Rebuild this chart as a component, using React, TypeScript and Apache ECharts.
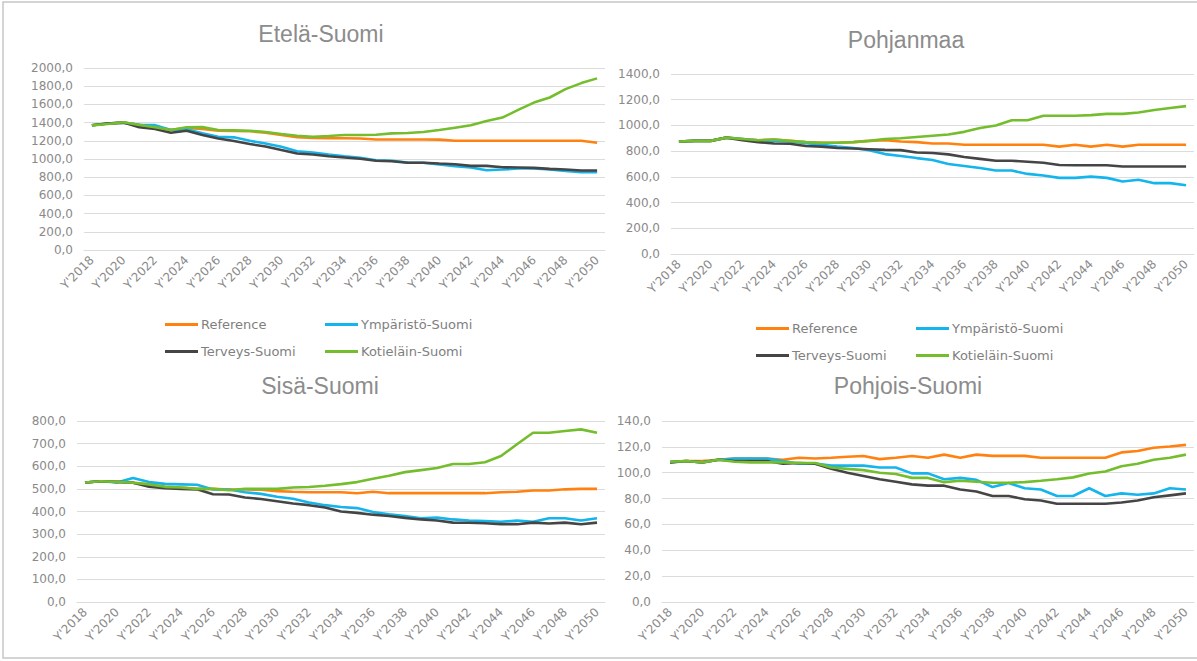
import React, { useEffect, useRef } from "react";
import * as echarts from "echarts";

const years = [
  "Y'2018", "Y'2019", "Y'2020", "Y'2021", "Y'2022", "Y'2023", "Y'2024", "Y'2025", "Y'2026", "Y'2027", "Y'2028",
  "Y'2029", "Y'2030", "Y'2031", "Y'2032", "Y'2033", "Y'2034", "Y'2035", "Y'2036", "Y'2037", "Y'2038", "Y'2039",
  "Y'2040", "Y'2041", "Y'2042", "Y'2043", "Y'2044", "Y'2045", "Y'2046", "Y'2047", "Y'2048", "Y'2049", "Y'2050",
];

const seriesNames = ["Reference", "Ympäristö-Suomi", "Terveys-Suomi", "Kotieläin-Suomi"];
const seriesColors = ["#FF8210", "#14B4EC", "#454545", "#74BE2E"];

const panelTitles = ["Etelä-Suomi", "Pohjanmaa", "Sisä-Suomi", "Pohjois-Suomi"];

// Etelä-Suomi
const eteläReference = [1370, 1390, 1400, 1375, 1350, 1320, 1340, 1330, 1310, 1308, 1305, 1290, 1265, 1240, 1230, 1228, 1228, 1226, 1215, 1215, 1215, 1215, 1213, 1200, 1200, 1200, 1200, 1200, 1200, 1200, 1200, 1200, 1178];
const eteläYmparisto = [1370, 1390, 1400, 1375, 1372, 1318, 1326, 1282, 1245, 1238, 1200, 1171, 1134, 1086, 1072, 1050, 1031, 1013, 987, 980, 961, 958, 940, 921, 906, 877, 884, 895, 895, 884, 869, 854, 854];
const eteläTerveys = [1370, 1390, 1400, 1350, 1330, 1289, 1311, 1263, 1226, 1197, 1164, 1138, 1098, 1061, 1050, 1031, 1017, 1002, 980, 976, 958, 958, 950, 943, 924, 924, 910, 906, 902, 891, 884, 873, 873];
const eteläKotielain = [1370, 1385, 1403, 1374, 1348, 1318, 1348, 1350, 1318, 1315, 1310, 1296, 1275, 1256, 1245, 1252, 1263, 1263, 1267, 1282, 1285, 1296, 1318, 1344, 1370, 1418, 1455, 1540, 1620, 1676, 1768, 1834, 1886];

// Pohjanmaa
const pohjanmaaReference = [875, 880, 880, 905, 895, 885, 890, 880, 870, 865, 865, 870, 880, 885, 875, 870, 860, 860, 850, 850, 850, 850, 850, 850, 835, 850, 835, 850, 835, 850, 850, 850, 850];
const pohjanmaaYmparisto = [875, 880, 880, 905, 895, 885, 880, 875, 862, 850, 836, 824, 808, 777, 762, 746, 731, 700, 685, 669, 649, 649, 623, 610, 592, 592, 602, 592, 564, 577, 551, 551, 535];
const pohjanmaaTerveys = [875, 880, 880, 905, 885, 870, 860, 858, 840, 835, 825, 820, 815, 810, 808, 790, 785, 775, 755, 740, 725, 725, 718, 710, 692, 690, 690, 690, 680, 680, 680, 680, 680];
const pohjanmaaKotielain = [875, 880, 880, 905, 895, 885, 890, 880, 870, 865, 865, 870, 880, 895, 900, 910, 920, 930, 950, 980, 1000, 1040, 1040, 1075, 1075, 1075, 1080, 1090, 1090, 1100, 1120, 1135, 1150];

// Sisä-Suomi
const sisaReference = [528, 534, 531, 527, 520, 509, 506, 500, 500, 497, 497, 496, 490, 487, 485, 485, 485, 481, 487, 481, 481, 481, 481, 481, 481, 481, 485, 487, 493, 493, 498, 500, 500];
const sisaYmparisto = [528, 534, 528, 548, 530, 522, 520, 518, 497, 497, 485, 478, 465, 456, 440, 428, 420, 415, 398, 388, 380, 370, 373, 365, 360, 358, 355, 360, 355, 370, 370, 360, 370];
const sisaTerveys = [528, 534, 531, 527, 510, 503, 500, 498, 476, 475, 462, 455, 445, 435, 428, 418, 400, 394, 386, 380, 372, 365, 360, 351, 350, 348, 344, 344, 351, 347, 351, 344, 351];
const sisaKotielain = [528, 534, 531, 527, 520, 509, 506, 500, 500, 494, 500, 500, 500, 506, 508, 514, 521, 530, 545, 558, 574, 583, 592, 610, 610, 618, 645, 697, 748, 748, 756, 763, 748];

// Pohjois-Suomi
const pohjoisReference = [108.5, 109, 109, 110, 111, 111, 111, 110, 111.6, 111, 111.6, 112.4, 112.9, 110.5, 111.6, 112.9, 111.6, 114, 111.6, 114, 113, 113, 113, 111.6, 111.6, 111.6, 111.6, 111.6, 115.7, 116.8, 119.3, 120.3, 121.5];
const pohjoisYmparisto = [108, 109, 108, 110, 111, 111, 111, 109, 107, 107, 105.5, 105.5, 105.5, 104, 104, 99.5, 99.5, 95, 96, 94.5, 89, 92, 88, 87, 82, 82, 88, 82, 84, 83, 84, 88, 87];
const pohjoisTerveys = [108, 109, 108, 110, 109, 109, 109, 107, 107.5, 107, 103, 100, 97.5, 95, 93, 91, 90, 90, 87, 85.5, 82, 82, 79.5, 78.5, 76, 76, 76, 76, 77, 78.5, 81, 82.5, 84];
const pohjoisKotielain = [108.5, 109, 108, 110, 108.5, 108, 108, 108, 107.5, 107.5, 104, 103, 102, 100, 99, 96, 96, 92.7, 93.8, 93, 92.2, 92.2, 92.7, 93.8, 95, 96.4, 99.4, 101, 105, 107, 110, 111.6, 114];

const panelData = [
  [eteläReference, eteläYmparisto, eteläTerveys, eteläKotielain],
  [pohjanmaaReference, pohjanmaaYmparisto, pohjanmaaTerveys, pohjanmaaKotielain],
  [sisaReference, sisaYmparisto, sisaTerveys, sisaKotielain],
  [pohjoisReference, pohjoisYmparisto, pohjoisTerveys, pohjoisKotielain],
];

const yMax = [2000, 1400, 800, 140];
const yInterval = [200, 200, 100, 20];

const SMALL_FONT = "DejaVu Sans";
const TITLE_FONT = "Liberation Sans, Arial, sans-serif";
const TEXT_GRAY = "#8a8a8a";
const GRID_GRAY = "#dcdcdc";

export default function App() {
  const ref = useRef<HTMLDivElement>(null);

  useEffect(() => {
    if (!ref.current) return;
    const chart = echarts.init(ref.current, null, { renderer: "svg" });

    const grids = [
      { left: 84, top: 68, width: 521, height: 182 },
      { left: 671, top: 74, width: 523, height: 180 },
      { left: 77, top: 421, width: 528, height: 181 },
      { left: 662, top: 421, width: 532, height: 181 },
    ];
    const titlePos = [
      [321, 34],
      [906, 40],
      [320, 386],
      [908, 386],
    ];

    const xAxes = grids.map((_, i) => ({
      type: "category",
      gridIndex: i,
      data: years,
      boundaryGap: true,
      axisLine: { show: true, lineStyle: { color: GRID_GRAY } },
      axisTick: { show: false },
      axisLabel: {
        rotate: 45,
        interval: 1,
        color: TEXT_GRAY,
        fontFamily: SMALL_FONT,
        fontSize: 12,
        margin: 8,
      },
    }));

    const yAxes = grids.map((_, i) => ({
      type: "value",
      gridIndex: i,
      min: 0,
      max: yMax[i],
      interval: yInterval[i],
      axisLine: { show: false },
      axisTick: { show: false },
      splitLine: { lineStyle: { color: GRID_GRAY, width: 1 } },
      axisLabel: {
        color: TEXT_GRAY,
        fontFamily: SMALL_FONT,
        fontSize: 12,
        margin: 11,
        formatter: (v: number) => v.toFixed(1).replace(".", ","),
      },
    }));

    const series: any[] = [];
    panelData.forEach((arrs, p) => {
      arrs.forEach((arr, s) => {
        series.push({
          type: "line",
          name: seriesNames[s],
          xAxisIndex: p,
          yAxisIndex: p,
          data: arr,
          symbol: "none",
          color: seriesColors[s],
          lineStyle: { width: 2.6, color: seriesColors[s] },
          z: 2 + s,
        });
      });
    });

    const legendSpots = [
      // panel 1
      { name: seriesNames[0], left: 165, y: 326 },
      { name: seriesNames[1], left: 325, y: 326 },
      { name: seriesNames[2], left: 165, y: 353 },
      { name: seriesNames[3], left: 325, y: 353 },
      // panel 2
      { name: seriesNames[0], left: 756, y: 330 },
      { name: seriesNames[1], left: 916, y: 330 },
      { name: seriesNames[2], left: 756, y: 357 },
      { name: seriesNames[3], left: 916, y: 357 },
    ];
    const legends = legendSpots.map((l) => ({
      data: [l.name],
      left: l.left,
      top: l.y - 8,
      padding: 0,
      icon: "rect",
      itemWidth: 33,
      itemHeight: 3,
      selectedMode: false,
      textStyle: { color: "#7f7f7f", fontFamily: SMALL_FONT, fontSize: 13, padding: [0, 0, 0, -2] },
    }));

    const graphics: any[] = [
      {
        type: "rect",
        shape: { x: 3, y: 2, width: 1200, height: 656 },
        style: { fill: "none", stroke: "#c6c6c6", lineWidth: 1.5 },
        silent: true,
        z: -1,
      },
      ...panelTitles.map((t, i) => ({
        type: "text",
        x: titlePos[i][0],
        y: titlePos[i][1],
        style: {
          text: t,
          font: `23px ${TITLE_FONT}`,
          fill: "#8c8c8c",
          align: "center",
          verticalAlign: "middle",
        },
      })),
    ];

    chart.setOption({
      animation: false,
      backgroundColor: "#ffffff",
      grid: grids,
      xAxis: xAxes,
      yAxis: yAxes,
      legend: legends,
      series,
      graphic: graphics,
    });

    return () => chart.dispose();
  }, []);

  return (
    <div
      ref={ref}
      style={{ position: "fixed", left: 0, top: 0, width: 1197, height: 661, background: "#fff" }}
    />
  );
}
